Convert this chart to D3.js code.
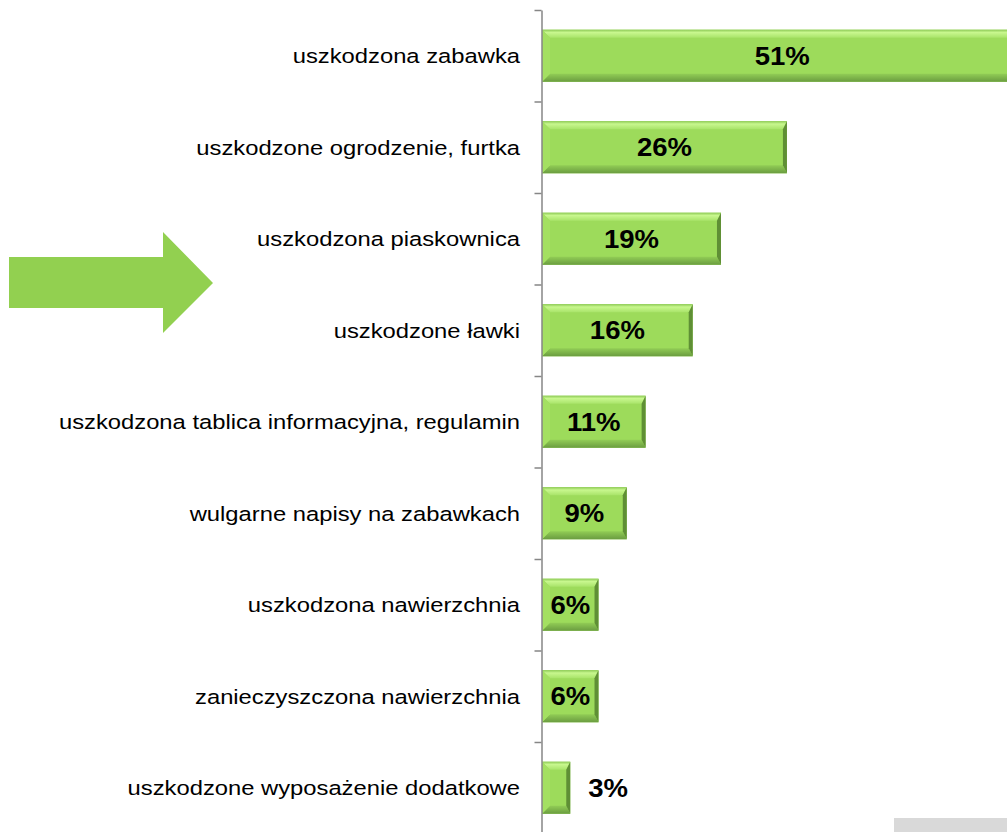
<!DOCTYPE html>
<html>
<head>
<meta charset="utf-8">
<script src="https://cdn.jsdelivr.net/npm/d3@7"></script>
<style>
    body { margin: 0; background: #fff; }
    svg { display: block; }
</style>
</head>
<body>
<svg id="chart" width="1007" height="832"></svg>
<script>
// categories, top to bottom
let categories = [
    "uszkodzona zabawka",
    "uszkodzone ogrodzenie, furtka",
    "uszkodzona piaskownica",
    "uszkodzone ławki",
    "uszkodzona tablica informacyjna, regulamin",
    "wulgarne napisy na zabawkach",
    "uszkodzona nawierzchnia",
    "zanieczyszczona nawierzchnia",
    "uszkodzone wyposażenie dodatkowe"
];
let values = [51, 26, 19, 16, 11, 9, 6, 6, 3];

let width = 1007;
let height = 832;
let axisX = 541.5;

let svg = d3.select("#chart");

let x = d3.scaleLinear()
    .domain([0, 51])
    .range([542, 542 + 51 * 9.42]);

let y = d3.scaleBand()
    .domain(categories)
    .range([10, 10 + 9 * 91.5])
    .paddingInner(0.43)
    .paddingOuter(0.215);

// boundaries for axis ticks
let yEdge = d3.scaleLinear()
    .domain([0, categories.length])
    .range([10, 10 + 9 * 91.5]);

// gradients for the bevel
let defs = svg.append("defs");
let gTop = defs.append("linearGradient").attr("id", "bevTop").attr("x1", 0).attr("y1", 0).attr("x2", 0).attr("y2", 1);
gTop.append("stop").attr("offset", "0%").attr("stop-color", "#8cc955");
gTop.append("stop").attr("offset", "35%").attr("stop-color", "#c8f78e");
gTop.append("stop").attr("offset", "100%").attr("stop-color", "#a9e46a");
let gBot = defs.append("linearGradient").attr("id", "bevBot").attr("x1", 0).attr("y1", 0).attr("x2", 0).attr("y2", 1);
gBot.append("stop").attr("offset", "0%").attr("stop-color", "#91cc55");
gBot.append("stop").attr("offset", "100%").attr("stop-color", "#6a9c40");

// decorative arrow on the left
svg.append("path")
    .attr("d", "M9,257L163,257L163,232L213,283L163,333L163,308L9,308Z")
    .attr("fill", "#92d050");

// grey corner block
svg.append("rect")
    .attr("x", 894).attr("y", 818)
    .attr("width", 113).attr("height", 14)
    .attr("fill", "#d9d9d9");

// bars
let bars = svg.selectAll(".bar")
    .data(values)
    .enter()
    .append("g")
    .attr("class", "bar");

bars.each(function (d, i) {
    let g = d3.select(this);
    let x0 = x(0);
    let x1 = Math.min(x(d), width + 20);
    let y0 = y(categories[i]);
    let h = y.bandwidth();
    let y1 = y0 + h;
    let w = x1 - x0;
    let b = Math.min(8, w / 2, h / 2);
    let br = Math.min(4, w / 4);

    g.append("rect")
        .attr("x", x0).attr("y", y0)
        .attr("width", w).attr("height", h)
        .attr("fill", "#9ddb5b");
    // top
    g.append("path")
        .attr("d", `M${x0},${y0}L${x1},${y0}L${x1 - br},${y0 + b}L${x0 + b},${y0 + b}Z`)
        .attr("fill", "url(#bevTop)");
    // bottom
    g.append("path")
        .attr("d", `M${x0},${y1}L${x1},${y1}L${x1 - br},${y1 - b}L${x0 + b},${y1 - b}Z`)
        .attr("fill", "url(#bevBot)");
    // left
    g.append("path")
        .attr("d", `M${x0},${y0}L${x0 + b},${y0 + b}L${x0 + b},${y1 - b}L${x0},${y1}Z`)
        .attr("fill", "#a4e062");
    // right
    g.append("path")
        .attr("d", `M${x1},${y0}L${x1 - br},${y0 + b}L${x1 - br},${y1 - b}L${x1},${y1}Z`)
        .attr("fill", "#5f8f35");
});

// axis with ticks at category boundaries
let axis = svg.append("g")
    .attr("transform", `translate(${axisX},0)`)
    .call(d3.axisLeft(yEdge)
        .tickValues(d3.range(0, categories.length + 1))
        .tickFormat("")
        .tickSize(7)
        .tickSizeOuter(0));
axis.select(".domain").attr("stroke", "#868686").attr("stroke-width", 1.5);
axis.selectAll(".tick line").attr("stroke", "#868686").attr("stroke-width", 1.5);

// category labels
svg.selectAll(".cat")
    .data(categories)
    .enter()
    .append("text")
    .attr("class", "cat")
    .attr("transform", d => `translate(520,${y(d) + y.bandwidth() / 2}) scale(1.16,1)`)
    .attr("text-anchor", "end")
    .attr("dy", "0.36em")
    .style("font-family", "'Liberation Sans', Arial, sans-serif")
    .style("font-size", "20.5px")
    .style("fill", "#000")
    .text(d => d);

// value labels
svg.selectAll(".val")
    .data(values)
    .enter()
    .append("text")
    .attr("class", "val")
    .attr("transform", function (d, i) {
        let cy = y(categories[i]) + y.bandwidth() / 2;
        let inside = x(d) - x(0) > 50;
        let cx = inside ? (x(0) + x(d)) / 2 : x(d) + 18;
        return `translate(${cx},${cy}) scale(1.1,1)`;
    })
    .attr("text-anchor", d => (x(d) - x(0) > 50 ? "middle" : "start"))
    .attr("dy", "0.36em")
    .style("font-family", "'Liberation Sans', Arial, sans-serif")
    .style("font-size", "25px")
    .style("font-weight", "bold")
    .style("fill", "#000")
    .text(d => d + "%");
</script>
</body>
</html>
